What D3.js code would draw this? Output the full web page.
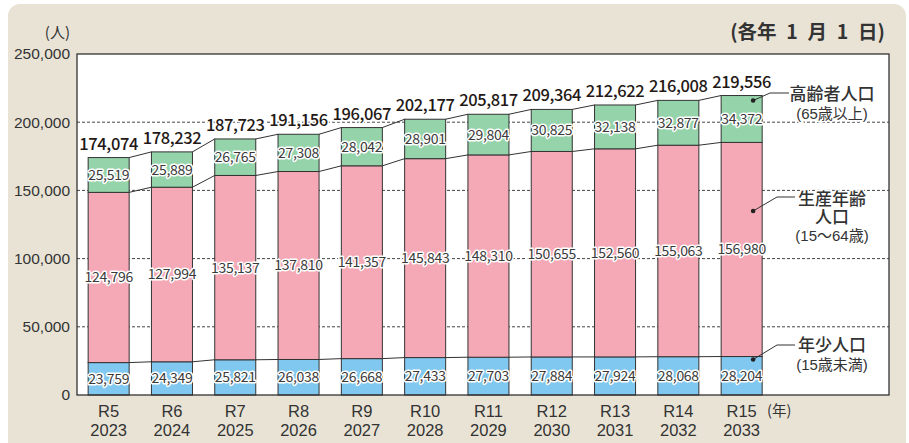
<!DOCTYPE html>
<html><head><meta charset="utf-8">
<script src="https://cdn.jsdelivr.net/npm/d3@7"></script>
<style>
html,body{margin:0;padding:0;background:#fff;}
svg{display:block;font-family:"Noto Sans CJK JP","Noto Sans",sans-serif;}
.tight{font-family:"Liberation Sans","Noto Sans CJK JP",sans-serif;}
</style></head>
<body><svg id="c" width="909" height="443"></svg>
<script>
const categories = ["R5","R6","R7","R8","R9","R10","R11","R12","R13","R14","R15"];
const years = ["2023","2024","2025","2026","2027","2028","2029","2030","2031","2032","2033"];
const young = [23759,24349,25821,26038,26668,27433,27703,27884,27924,28068,28204];
const working = [124796,127994,135137,137810,141357,145843,148310,150655,152560,155063,156980];
const elderly = [25519,25889,26765,27308,28042,28901,29804,30825,32138,32877,34372];
const totals = [174074,178232,187723,191156,196067,202177,205817,209364,212622,216008,219556];
const yTicks = [0,50000,100000,150000,200000,250000];
const seriesNames = ["young","working","elderly"];
const colors = {young:"#80c8ef", working:"#f5a9b7", elderly:"#95d3aa"};

const svg = d3.select("#c");
svg.append("rect").attr("x",8).attr("y",4).attr("width",898).attr("height",450).attr("rx",12).attr("fill","#e9e3d6");

const L=77, R=889, T=54, B=395;
svg.append("rect").attr("x",L).attr("y",T).attr("width",R-L).attr("height",B-T).attr("fill","#fff");

const y = d3.scaleLinear().domain([0,250000]).range([B,T]);
const x = d3.scaleBand().domain(categories).range([L, L+11*63.3]).paddingInner(0.352).paddingOuter(0.176);

svg.append("g").selectAll("line").data(yTicks.filter(d=>d>0 && d<250000)).join("line")
  .attr("x1",L).attr("x2",R).attr("y1",d=>y(d)).attr("y2",d=>y(d))
  .attr("stroke","#444").attr("stroke-width",1).attr("stroke-dasharray","3,2");

const yAxis = d3.axisLeft(y).tickValues(yTicks).tickSize(0).tickPadding(7).tickFormat(d3.format(","));
const ya = svg.append("g").attr("transform",`translate(${L},0)`).call(yAxis);
ya.select(".domain").remove();
ya.selectAll("text").attr("font-size",15.5).attr("fill","#333").attr("font-family","inherit");

svg.append("text").attr("x",70).attr("y",38).attr("text-anchor","end").attr("font-size",15).attr("fill","#333").text("(人)");
svg.append("text").attr("x",885).attr("y",39).attr("text-anchor","end").attr("font-size",19.5).attr("font-weight",600).attr("fill","#333")
  .text("(各年\u20021\u2002月\u20021\u2002日)");

const rows = categories.map((c,i)=>({cat:c, young:young[i], working:working[i], elderly:elderly[i]}));
const stack = d3.stack().keys(seriesNames)(rows);

const gl = svg.append("g");
stack.forEach(s=>{
  for(let i=0;i<categories.length-1;i++){
    gl.append("line")
      .attr("x1",x(categories[i])+x.bandwidth()).attr("y1",y(s[i][1]))
      .attr("x2",x(categories[i+1])).attr("y2",y(s[i+1][1]))
      .attr("stroke","#333").attr("stroke-width",1);
  }
});

stack.forEach(s=>{
  svg.append("g").selectAll("rect").data(s).join("rect")
    .attr("x",d=>x(d.data.cat)).attr("width",x.bandwidth())
    .attr("y",d=>y(d[1])).attr("height",d=>y(d[0])-y(d[1]))
    .attr("fill",colors[s.key]).attr("stroke","#333").attr("stroke-width",1);
});

svg.append("rect").attr("x",L).attr("y",T).attr("width",R-L).attr("height",B-T).attr("fill","none").attr("stroke","#333").attr("stroke-width",1.3);

const fmt = d3.format(",");
stack.forEach(s=>{
  svg.append("g").selectAll("text").data(s).join("text")
    .attr("x",d=>x(d.data.cat)+x.bandwidth()/2)
    .attr("y",d=>(y(d[0])+y(d[1]))/2+5)
    .attr("text-anchor","middle").attr("font-size",14).attr("fill","#3a3a3a")
    .attr("stroke","#fff").attr("stroke-width",3).attr("paint-order","stroke").attr("stroke-linejoin","round")
    .attr("letter-spacing",-0.3)
    .text(d=>fmt(d[1]-d[0]));
});

svg.append("g").selectAll("text").data(totals).join("text")
  .attr("x",(d,i)=>x(categories[i])+x.bandwidth()/2)
  .attr("y",d=>y(d)-8)
  .attr("text-anchor","middle").attr("font-size",16.5).attr("font-weight",500).attr("fill","#231815")
  .attr("stroke","#fff").attr("stroke-width",3).attr("paint-order","stroke").attr("stroke-linejoin","round")
  .attr("letter-spacing",-0.4)
  .text(d=>fmt(d));

const xl = svg.append("g").attr("class","tight");
categories.forEach((c,i)=>{
  const cx = x(c)+x.bandwidth()/2;
  const t = xl.append("text").attr("text-anchor","middle").attr("font-size",16.5).attr("fill","#333");
  t.append("tspan").attr("x",cx).attr("y",417).text(c);
  t.append("tspan").attr("x",cx).attr("y",436).text(years[i]);
});
svg.append("text").attr("x",767).attr("y",416).attr("font-size",14.5).attr("fill","#333").text("(年)");

const last = categories.length-1;
const bx = x(categories[last])+x.bandwidth()*0.78;
const ann = [
  {dot:[bx,y(stack[2][last][1])+5], bend:[770,93], end:[789,93],
   lines:[{t:"高齢者人口",y:100,s:17,w:500},{t:"(65歳以上)",y:119,s:15,w:400}]},
  {dot:[bx,211], bend:[777,197], end:[795,197],
   lines:[{t:"生産年齢",y:205,s:17,w:500},{t:"人口",y:223,s:17,w:500},{t:"(15〜64歳)",y:241,s:15,w:400}]},
  {dot:[bx,y(stack[0][last][1])+3], bend:[777,345], end:[795,345],
   lines:[{t:"年少人口",y:351,s:17,w:500},{t:"(15歳未満)",y:370,s:15,w:400}]}
];
ann.forEach(a=>{
  svg.append("polyline").attr("points",[a.dot,a.bend,a.end].map(p=>p.join(",")).join(" "))
    .attr("fill","none").attr("stroke","#333").attr("stroke-width",1);
  svg.append("circle").attr("cx",a.dot[0]).attr("cy",a.dot[1]).attr("r",2.3).attr("fill","#222");
  const t = svg.append("text").attr("class","tight").attr("text-anchor","middle").attr("fill","#333")
    .attr("stroke","#fff").attr("stroke-width",3).attr("paint-order","stroke");
  a.lines.forEach(l=>{
    t.append("tspan").attr("x",832).attr("y",l.y).attr("font-size",l.s).attr("font-weight",l.w).text(l.t);
  });
});
</script></body></html>
